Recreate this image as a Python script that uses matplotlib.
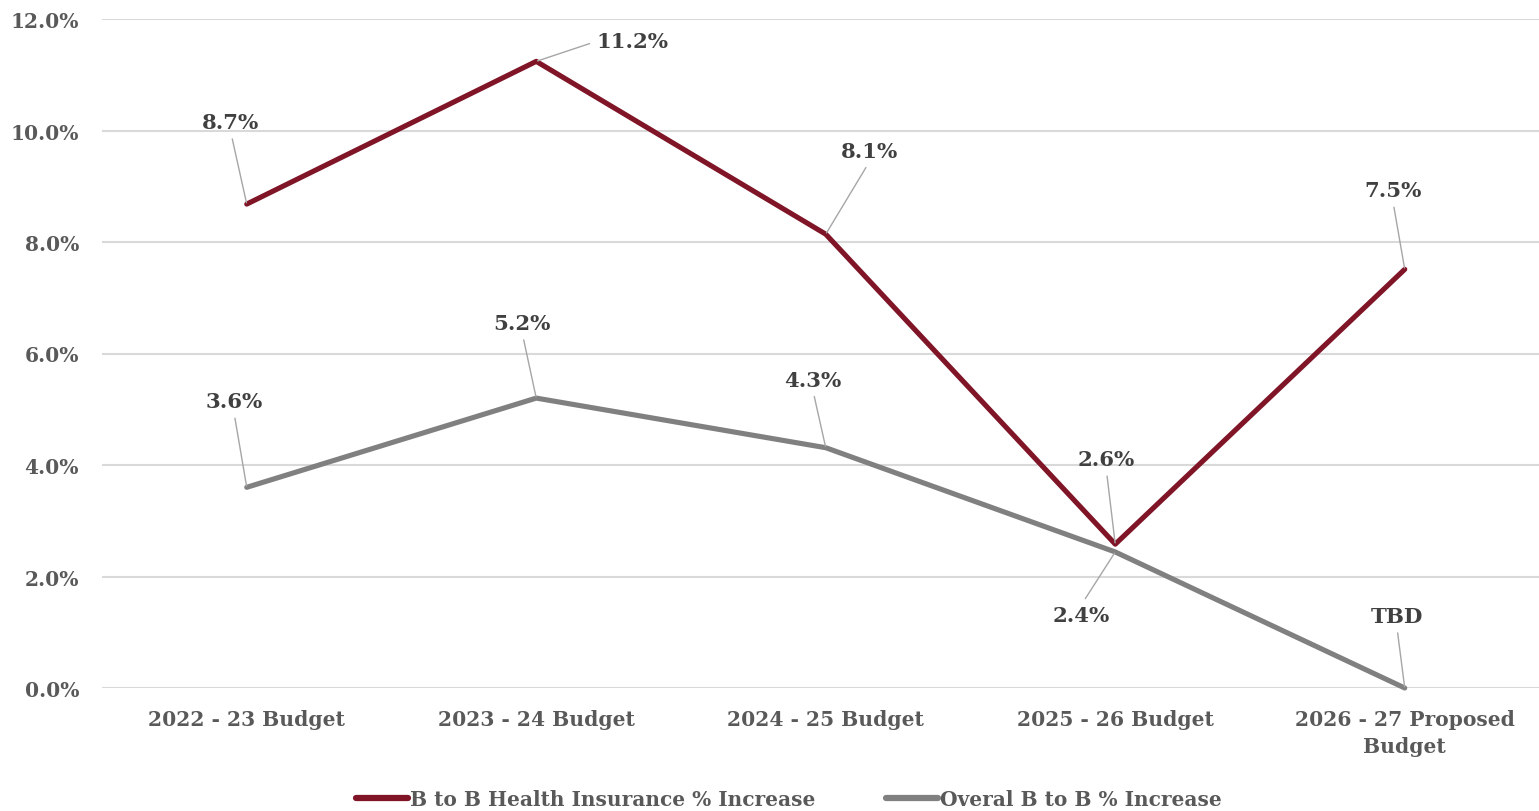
import matplotlib
matplotlib.use("Agg")
import matplotlib.pyplot as plt
from matplotlib.ticker import PercentFormatter

categories = ["2022 - 23 Budget", "2023 - 24 Budget", "2024 - 25 Budget",
              "2025 - 26 Budget", "2026 - 27 Proposed\nBudget"]
health = [8.68, 11.24, 8.14, 2.58, 7.51]
overall = [3.6, 5.2, 4.31, 2.44, 0.0]
health_labels = ["8.7%", "11.2%", "8.1%", "2.6%", "7.5%"]
overall_labels = ["3.6%", "5.2%", "4.3%", "2.4%", "TBD"]
yticks = [0, 2, 4, 6, 8, 10, 12]
series_names = ["B to B Health Insurance % Increase", "Overal B to B % Increase"]

RED = "#7F1527"
GRAY = "#808080"
FONT = "DejaVu Serif"
plt.rcParams["font.family"] = [FONT]
plt.rcParams["font.weight"] = "bold"

W, H = 1539, 812
fig = plt.figure(figsize=(W / 100, H / 100), dpi=100)
left, right, top, bottom = 102, 1549.5, 20, 689
ax = fig.add_axes([left / W, 1 - bottom / H, (right - left) / W, (bottom - top) / H])
x = list(range(len(categories)))
ax.set_xlim(-0.5, len(categories) - 0.5)
ax.set_ylim(0, 12)
ax.set_yticks(yticks)
ax.yaxis.set_major_formatter(PercentFormatter(decimals=1))
ax.grid(axis="y", color="#D9D9D9", lw=1.5)
ax.set_axisbelow(True)
for s in ax.spines.values():
    s.set_visible(False)
ax.tick_params(length=0, labelsize=14.6, labelcolor="#595959")
ax.tick_params(axis="y", pad=16.5)
ax.tick_params(axis="x", pad=15)
ax.set_xticks(x)
ax.set_xticklabels(categories, fontweight="bold", linespacing=1.45)
for t in ax.get_yticklabels():
    t.set_fontweight("bold")

l1, = ax.plot(x, health, color=RED, lw=3.7, solid_capstyle="round", label=series_names[0], clip_on=False)
l2, = ax.plot(x, overall, color=GRAY, lw=3.7, solid_capstyle="round", label=series_names[1], clip_on=False)

h_off = [(-16, 82, (0.5, 0)), (96, 20, (0, 0.5)), (44, 83, (0.5, 0)), (-9, 85, (0.5, 0)), (-12, 79, (0.5, 0))]
o_off = [(-13, 86, (0.5, 0)), (-14, 75, (0.5, 0)), (-13, 68, (0.5, 0)), (-34, -63, (0.5, 1)), (-8, 72, (0.5, 0))]

def label(xs, ys, labs, offs):
    for xi, yi, lab, (dx, dy, rp) in zip(xs, ys, labs, offs):
        ax.annotate(lab, (xi, yi), xytext=(dx, dy), textcoords="offset pixels",
                    ha="center", va="center", fontsize=15.3, color="#404040", fontweight="bold",
                    arrowprops=dict(arrowstyle="-", color="#A6A6A6", lw=1, relpos=rp,
                                    shrinkA=3, shrinkB=1))

label(x, health, health_labels, h_off)
label(x, overall, overall_labels, o_off)

leg = fig.legend(handles=[l1, l2], loc="center", bbox_to_anchor=(789 / W, 1 - 800 / H), ncol=2,
                 frameon=False, labelcolor="#595959", handlelength=2.6,
                 handletextpad=0.1, columnspacing=3.5,
                 prop={"weight": "bold", "size": 14.5, "family": FONT})
for h in leg.legend_handles:
    h.set_linewidth(4.5)

fig.savefig("out.png", dpi=100)
